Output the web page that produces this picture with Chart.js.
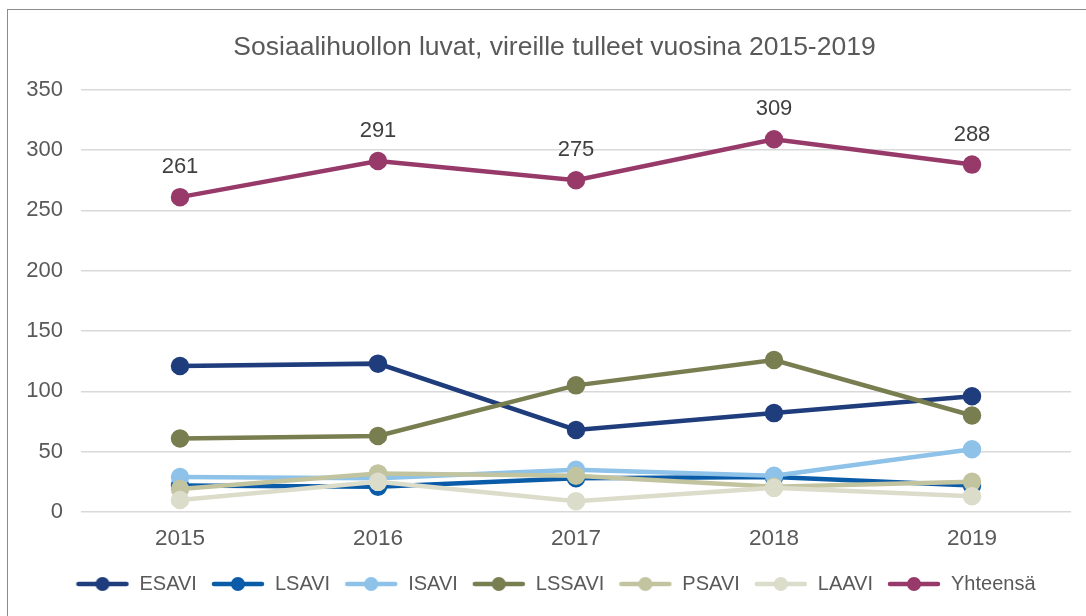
<!DOCTYPE html>
<html>
<head>
<meta charset="utf-8">
<script src="https://cdn.jsdelivr.net/npm/chart.js@4"></script>
<style>
  html, body { margin: 0; padding: 0; background: #fff; }
  #wrap { position: relative; width: 1086px; height: 616px; overflow: hidden; }
  #frame { position: absolute; left: 7px; top: 9px; width: 1200px; height: 700px; border: 1px solid #8c8c8c; }
  #box { position: absolute; left: 0; top: 0; width: 1086px; height: 616px; }
</style>
</head>
<body>
<div id="wrap">
  <div id="frame"></div>
  <div id="box"><canvas id="chart"></canvas></div>
</div>
<script>
// data
const years = ['2015', '2016', '2017', '2018', '2019'];
const esavi = [121, 123, 68, 82, 96];
const lsavi = [22, 21, 28, 29, 22];
const isavi = [29, 28, 35, 30, 52];
const lssavi = [61, 63, 105, 126, 80];
const psavi = [19, 32, 30, 21, 25];
const laavi = [10, 25, 9, 20, 13];
const yhteensa = [261, 291, 275, 309, 288];

const seriesNames = ['ESAVI', 'LSAVI', 'ISAVI', 'LSSAVI', 'PSAVI', 'LAAVI', 'Yhteensä'];
const seriesData = [esavi, lsavi, isavi, lssavi, psavi, laavi, yhteensa];
const colors = ['#1f3d7c', '#0a5ba8', '#8ec2e8', '#797e50', '#c2c4a0', '#dcdccb', '#973a69'];

const textColor = '#595959';
const font = 'Liberation Sans, Arial, sans-serif';

// little line + dot picture for the legend
function legendMark(color) {
  const c = document.createElement('canvas');
  c.width = 54; c.height = 18;
  const g = c.getContext('2d');
  g.strokeStyle = color;
  g.lineWidth = 4.5;
  g.lineCap = 'round';
  g.beginPath(); g.moveTo(3, 9); g.lineTo(51, 9); g.stroke();
  g.fillStyle = color;
  g.beginPath(); g.arc(27, 9, 7, 0, Math.PI * 2); g.fill();
  return c;
}
const marks = colors.map(legendMark);

// numbers above the Yhteensä points
const totalLabels = {
  id: 'totalLabels',
  afterDatasetsDraw(chart) {
    const idx = seriesNames.indexOf('Yhteensä');
    const meta = chart.getDatasetMeta(idx);
    const ctx = chart.ctx;
    ctx.save();
    ctx.font = '22px ' + font;
    ctx.fillStyle = '#404040';
    ctx.textAlign = 'center';
    ctx.textBaseline = 'middle';
    meta.data.forEach((pt, i) => {
      ctx.fillText(String(yhteensa[i]), pt.x, pt.y - 30);
    });
    ctx.restore();
  }
};

// title and legend sit a bit right of the plot centre in the original
const shiftBoxes = {
  id: 'shiftBoxes',
  afterLayout(chart) {
    chart.legend.left += 10;
    chart.legend.right += 10;
    chart.titleBlock.left += 9;
    chart.titleBlock.right += 9;
  }
};

const datasets = seriesNames.map((name, i) => ({
  label: name,
  data: seriesData[i],
  borderColor: colors[i],
  backgroundColor: colors[i],
  borderWidth: 4.5,
  pointRadius: 7,
  pointHoverRadius: 7,
  pointStyle: 'circle',
  tension: 0,
  order: seriesNames.length - i
}));

new Chart(document.getElementById('chart'), {
  type: 'line',
  data: { labels: years, datasets: datasets },
  plugins: [totalLabels, shiftBoxes],
  options: {
    responsive: true,
    maintainAspectRatio: false,
    animation: false,
    layout: { padding: { left: 20, right: 15, top: 8, bottom: 12 } },
    plugins: {
      title: {
        display: true,
        text: 'Sosiaalihuollon luvat, vireille tulleet vuosina 2015-2019',
        color: '#595959',
        font: { family: font, size: 26.5, weight: 'normal' },
        padding: { top: 24, bottom: 26 }
      },
      legend: {
        position: 'bottom',
        labels: {
          color: textColor,
          font: { family: font, size: 20 },
          usePointStyle: true,
          pointStyleWidth: 54,
          padding: 14,
          sort: (a, b) => a.datasetIndex - b.datasetIndex,
          generateLabels(chart) {
            const items = Chart.defaults.plugins.legend.labels.generateLabels(chart);
            items.forEach((it) => { it.pointStyle = marks[it.datasetIndex]; });
            return items;
          }
        }
      },
      tooltip: { enabled: false }
    },
    scales: {
      x: {
        offset: true,
        grid: { display: false },
        border: { display: false },
        ticks: { color: textColor, font: { family: font, size: 22.5 }, padding: 5 },
        afterFit(scale) { scale.height = 48; }
      },
      y: {
        min: 0,
        max: 350,
        ticks: { stepSize: 50, color: textColor, font: { family: font, size: 22 }, padding: 18 },
        grid: { color: '#d9d9d9', lineWidth: 1.5, drawTicks: false },
        border: { display: false },
        afterFit(scale) { scale.width = 61; }
      }
    }
  }
});
</script>
</body>
</html>
